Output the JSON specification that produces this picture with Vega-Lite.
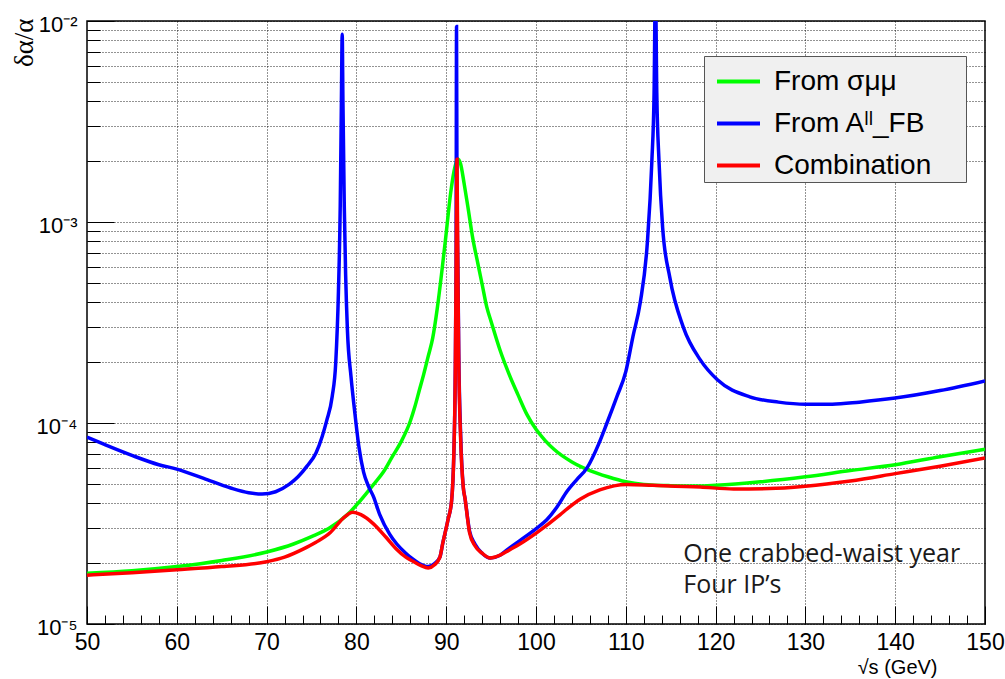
{
  "$schema": "https://vega.github.io/schema/vega-lite/v6.json",
  "width": 898,
  "height": 603,
  "autosize": {"type": "none"},
  "padding": {"left": 87, "top": 21, "right": 20, "bottom": 55},
  "background": "white",
  "config": {
    "view": {"stroke": "#000", "strokeWidth": 1.5},
    "font": "Liberation Sans"
  },
  "resolve": {"axis": {"x": "independent", "y": "independent"}},
  "layer": [
    {
      "data": {"values": [
        {"x":50,"v":1.79e-5,"s":"From σμμ"},{"x":55,"v":1.84e-5,"s":"From σμμ"},{"x":60,"v":1.93e-5,"s":"From σμμ"},{"x":65,"v":2.07e-5,"s":"From σμμ"},{"x":70,"v":2.28e-5,"s":"From σμμ"},{"x":73,"v":2.5e-5,"s":"From σμμ"},{"x":75,"v":2.72e-5,"s":"From σμμ"},{"x":77,"v":3.0e-5,"s":"From σμμ"},{"x":79,"v":3.5e-5,"s":"From σμμ"},{"x":80,"v":3.9e-5,"s":"From σμμ"},{"x":81,"v":4.4e-5,"s":"From σμμ"},{"x":82,"v":5.0e-5,"s":"From σμμ"},{"x":83,"v":5.7e-5,"s":"From σμμ"},{"x":84,"v":6.8e-5,"s":"From σμμ"},{"x":85,"v":8.1e-5,"s":"From σμμ"},{"x":86,"v":1.02e-4,"s":"From σμμ"},{"x":86.5,"v":1.2e-4,"s":"From σμμ"},{"x":87,"v":1.45e-4,"s":"From σμμ"},{"x":87.5,"v":1.75e-4,"s":"From σμμ"},{"x":88,"v":2.15e-4,"s":"From σμμ"},{"x":88.5,"v":2.65e-4,"s":"From σμμ"},{"x":89,"v":3.7e-4,"s":"From σμμ"},{"x":89.5,"v":5.6e-4,"s":"From σμμ"},{"x":90,"v":8.8e-4,"s":"From σμμ"},{"x":90.5,"v":1.4e-3,"s":"From σμμ"},{"x":91,"v":1.9e-3,"s":"From σμμ"},{"x":91.3,"v":2.06e-3,"s":"From σμμ"},{"x":91.6,"v":1.95e-3,"s":"From σμμ"},{"x":92,"v":1.55e-3,"s":"From σμμ"},{"x":92.4,"v":1.2e-3,"s":"From σμμ"},{"x":93,"v":8.1e-4,"s":"From σμμ"},{"x":93.5,"v":6.3e-4,"s":"From σμμ"},{"x":94,"v":4.9e-4,"s":"From σμμ"},{"x":94.5,"v":3.8e-4,"s":"From σμμ"},{"x":95,"v":3.2e-4,"s":"From σμμ"},{"x":96,"v":2.3e-4,"s":"From σμμ"},{"x":97,"v":1.75e-4,"s":"From σμμ"},{"x":98,"v":1.38e-4,"s":"From σμμ"},{"x":99,"v":1.1e-4,"s":"From σμμ"},{"x":100,"v":9.3e-5,"s":"From σμμ"},{"x":101,"v":8.2e-5,"s":"From σμμ"},{"x":102,"v":7.4e-5,"s":"From σμμ"},{"x":104,"v":6.4e-5,"s":"From σμμ"},{"x":106,"v":5.8e-5,"s":"From σμμ"},{"x":108,"v":5.4e-5,"s":"From σμμ"},{"x":110,"v":5.1e-5,"s":"From σμμ"},{"x":112,"v":4.95e-5,"s":"From σμμ"},{"x":115,"v":4.88e-5,"s":"From σμμ"},{"x":118,"v":4.86e-5,"s":"From σμμ"},{"x":120,"v":4.9e-5,"s":"From σμμ"},{"x":125,"v":5.1e-5,"s":"From σμμ"},{"x":130,"v":5.4e-5,"s":"From σμμ"},{"x":135,"v":5.8e-5,"s":"From σμμ"},{"x":140,"v":6.2e-5,"s":"From σμμ"},{"x":145,"v":6.8e-5,"s":"From σμμ"},{"x":150,"v":7.4e-5,"s":"From σμμ"},

        {"x":50,"v":8.5e-5,"s":"From Aˡˡ_FB"},{"x":52,"v":7.8e-5,"s":"From Aˡˡ_FB"},{"x":55,"v":6.9e-5,"s":"From Aˡˡ_FB"},{"x":58,"v":6.2e-5,"s":"From Aˡˡ_FB"},{"x":60,"v":5.9e-5,"s":"From Aˡˡ_FB"},{"x":63,"v":5.3e-5,"s":"From Aˡˡ_FB"},{"x":66,"v":4.75e-5,"s":"From Aˡˡ_FB"},{"x":68,"v":4.5e-5,"s":"From Aˡˡ_FB"},{"x":69.5,"v":4.43e-5,"s":"From Aˡˡ_FB"},{"x":71,"v":4.55e-5,"s":"From Aˡˡ_FB"},{"x":72.5,"v":4.95e-5,"s":"From Aˡˡ_FB"},{"x":73.5,"v":5.4e-5,"s":"From Aˡˡ_FB"},{"x":74.5,"v":6.1e-5,"s":"From Aˡˡ_FB"},{"x":75.5,"v":7.1e-5,"s":"From Aˡˡ_FB"},{"x":76.2,"v":8.6e-5,"s":"From Aˡˡ_FB"},{"x":76.7,"v":1.03e-4,"s":"From Aˡˡ_FB"},{"x":77.3,"v":1.35e-4,"s":"From Aˡˡ_FB"},{"x":77.7,"v":2.0e-4,"s":"From Aˡˡ_FB"},{"x":78.0,"v":4.5e-4,"s":"From Aˡˡ_FB"},{"x":78.2,"v":1.2e-3,"s":"From Aˡˡ_FB"},{"x":78.33,"v":4e-3,"s":"From Aˡˡ_FB"},{"x":78.42,"v":8.6e-3,"s":"From Aˡˡ_FB"},{"x":78.5,"v":4e-3,"s":"From Aˡˡ_FB"},{"x":78.65,"v":1.2e-3,"s":"From Aˡˡ_FB"},{"x":78.8,"v":5.5e-4,"s":"From Aˡˡ_FB"},{"x":79.0,"v":2.9e-4,"s":"From Aˡˡ_FB"},{"x":79.4,"v":1.7e-4,"s":"From Aˡˡ_FB"},{"x":79.8,"v":1.15e-4,"s":"From Aˡˡ_FB"},{"x":80.3,"v":7.5e-5,"s":"From Aˡˡ_FB"},{"x":80.8,"v":5.7e-5,"s":"From Aˡˡ_FB"},{"x":81.3,"v":4.9e-5,"s":"From Aˡˡ_FB"},{"x":81.9,"v":4.3e-5,"s":"From Aˡˡ_FB"},{"x":82.6,"v":3.5e-5,"s":"From Aˡˡ_FB"},{"x":83.7,"v":2.8e-5,"s":"From Aˡˡ_FB"},{"x":84.5,"v":2.5e-5,"s":"From Aˡˡ_FB"},{"x":85.5,"v":2.25e-5,"s":"From Aˡˡ_FB"},{"x":86.3,"v":2.1e-5,"s":"From Aˡˡ_FB"},{"x":87,"v":2.0e-5,"s":"From Aˡˡ_FB"},{"x":88,"v":1.93e-5,"s":"From Aˡˡ_FB"},{"x":88.7,"v":2.0e-5,"s":"From Aˡˡ_FB"},{"x":89.3,"v":2.15e-5,"s":"From Aˡˡ_FB"},{"x":89.6,"v":2.5e-5,"s":"From Aˡˡ_FB"},{"x":90.2,"v":3.3e-5,"s":"From Aˡˡ_FB"},{"x":90.6,"v":4.1e-5,"s":"From Aˡˡ_FB"},{"x":90.85,"v":7e-5,"s":"From Aˡˡ_FB"},{"x":91.0,"v":1.6e-4,"s":"From Aˡˡ_FB"},{"x":91.1,"v":6e-4,"s":"From Aˡˡ_FB"},{"x":91.15,"v":9.4e-3,"s":"From Aˡˡ_FB"},{"x":91.2,"v":1.5e-3,"s":"From Aˡˡ_FB"},{"x":91.3,"v":6e-4,"s":"From Aˡˡ_FB"},{"x":91.4,"v":2.2e-4,"s":"From Aˡˡ_FB"},{"x":91.6,"v":9e-5,"s":"From Aˡˡ_FB"},{"x":91.9,"v":4.8e-5,"s":"From Aˡˡ_FB"},{"x":92.1,"v":4.2e-5,"s":"From Aˡˡ_FB"},{"x":92.6,"v":2.9e-5,"s":"From Aˡˡ_FB"},{"x":93.2,"v":2.5e-5,"s":"From Aˡˡ_FB"},{"x":94,"v":2.25e-5,"s":"From Aˡˡ_FB"},{"x":94.9,"v":2.13e-5,"s":"From Aˡˡ_FB"},{"x":96,"v":2.2e-5,"s":"From Aˡˡ_FB"},{"x":97,"v":2.38e-5,"s":"From Aˡˡ_FB"},{"x":98.2,"v":2.6e-5,"s":"From Aˡˡ_FB"},{"x":100.1,"v":3.0e-5,"s":"From Aˡˡ_FB"},{"x":101.2,"v":3.3e-5,"s":"From Aˡˡ_FB"},{"x":102.3,"v":3.8e-5,"s":"From Aˡˡ_FB"},{"x":103.5,"v":4.6e-5,"s":"From Aˡˡ_FB"},{"x":104.5,"v":5.2e-5,"s":"From Aˡˡ_FB"},{"x":105.7,"v":6.0e-5,"s":"From Aˡˡ_FB"},{"x":107,"v":7.9e-5,"s":"From Aˡˡ_FB"},{"x":107.9,"v":1.0e-4,"s":"From Aˡˡ_FB"},{"x":109,"v":1.35e-4,"s":"From Aˡˡ_FB"},{"x":110,"v":1.8e-4,"s":"From Aˡˡ_FB"},{"x":110.8,"v":2.7e-4,"s":"From Aˡˡ_FB"},{"x":111.6,"v":3.95e-4,"s":"From Aˡˡ_FB"},{"x":112.4,"v":7.9e-4,"s":"From Aˡˡ_FB"},{"x":112.9,"v":2.0e-3,"s":"From Aˡˡ_FB"},{"x":113.15,"v":4.4e-3,"s":"From Aˡˡ_FB"},{"x":113.3,"v":1.5e-2,"s":"From Aˡˡ_FB"},{"x":113.45,"v":4.4e-3,"s":"From Aˡˡ_FB"},{"x":113.7,"v":2.0e-3,"s":"From Aˡˡ_FB"},{"x":114.1,"v":9.4e-4,"s":"From Aˡˡ_FB"},{"x":114.9,"v":5.3e-4,"s":"From Aˡˡ_FB"},{"x":116.4,"v":3.0e-4,"s":"From Aˡˡ_FB"},{"x":118.3,"v":2.06e-4,"s":"From Aˡˡ_FB"},{"x":120.2,"v":1.64e-4,"s":"From Aˡˡ_FB"},{"x":123.8,"v":1.35e-4,"s":"From Aˡˡ_FB"},{"x":127,"v":1.27e-4,"s":"From Aˡˡ_FB"},{"x":130,"v":1.24e-4,"s":"From Aˡˡ_FB"},{"x":133,"v":1.24e-4,"s":"From Aˡˡ_FB"},{"x":136,"v":1.27e-4,"s":"From Aˡˡ_FB"},{"x":140,"v":1.33e-4,"s":"From Aˡˡ_FB"},{"x":145,"v":1.45e-4,"s":"From Aˡˡ_FB"},{"x":150,"v":1.62e-4,"s":"From Aˡˡ_FB"},

        {"x":50,"v":1.75e-5,"s":"Combination"},{"x":55,"v":1.8e-5,"s":"Combination"},{"x":60,"v":1.86e-5,"s":"Combination"},{"x":65,"v":1.93e-5,"s":"Combination"},{"x":70,"v":2.04e-5,"s":"Combination"},{"x":72,"v":2.15e-5,"s":"Combination"},{"x":74,"v":2.35e-5,"s":"Combination"},{"x":75.5,"v":2.55e-5,"s":"Combination"},{"x":77.1,"v":2.85e-5,"s":"Combination"},{"x":78.5,"v":3.35e-5,"s":"Combination"},{"x":79.6,"v":3.6e-5,"s":"Combination"},{"x":80.5,"v":3.5e-5,"s":"Combination"},{"x":81.9,"v":3.15e-5,"s":"Combination"},{"x":83.3,"v":2.7e-5,"s":"Combination"},{"x":84.5,"v":2.35e-5,"s":"Combination"},{"x":85.5,"v":2.15e-5,"s":"Combination"},{"x":86.3,"v":2.05e-5,"s":"Combination"},{"x":87.2,"v":1.95e-5,"s":"Combination"},{"x":88,"v":1.9e-5,"s":"Combination"},{"x":88.7,"v":1.97e-5,"s":"Combination"},{"x":89.3,"v":2.15e-5,"s":"Combination"},{"x":89.6,"v":2.5e-5,"s":"Combination"},{"x":90.2,"v":3.3e-5,"s":"Combination"},{"x":90.6,"v":4.1e-5,"s":"Combination"},{"x":90.85,"v":7e-5,"s":"Combination"},{"x":91.0,"v":1.6e-4,"s":"Combination"},{"x":91.1,"v":5.5e-4,"s":"Combination"},{"x":91.2,"v":2.05e-3,"s":"Combination"},{"x":91.3,"v":5.5e-4,"s":"Combination"},{"x":91.4,"v":2.0e-4,"s":"Combination"},{"x":91.6,"v":8.5e-5,"s":"Combination"},{"x":91.9,"v":4.8e-5,"s":"Combination"},{"x":92.1,"v":4.2e-5,"s":"Combination"},{"x":92.6,"v":2.85e-5,"s":"Combination"},{"x":93.2,"v":2.45e-5,"s":"Combination"},{"x":94,"v":2.25e-5,"s":"Combination"},{"x":94.9,"v":2.13e-5,"s":"Combination"},{"x":96,"v":2.2e-5,"s":"Combination"},{"x":97,"v":2.33e-5,"s":"Combination"},{"x":98.2,"v":2.5e-5,"s":"Combination"},{"x":100.1,"v":2.85e-5,"s":"Combination"},{"x":102.7,"v":3.5e-5,"s":"Combination"},{"x":103.5,"v":3.75e-5,"s":"Combination"},{"x":105,"v":4.2e-5,"s":"Combination"},{"x":107.1,"v":4.65e-5,"s":"Combination"},{"x":110.1,"v":4.95e-5,"s":"Combination"},{"x":113,"v":4.9e-5,"s":"Combination"},{"x":118.3,"v":4.8e-5,"s":"Combination"},{"x":122,"v":4.7e-5,"s":"Combination"},{"x":126,"v":4.72e-5,"s":"Combination"},{"x":130,"v":4.85e-5,"s":"Combination"},{"x":135,"v":5.15e-5,"s":"Combination"},{"x":140,"v":5.6e-5,"s":"Combination"},{"x":145,"v":6.1e-5,"s":"Combination"},{"x":150,"v":6.7e-5,"s":"Combination"}
      ]},
      "encoding": {
        "x": {
          "field": "x", "type": "quantitative",
          "scale": {"domain": [50, 150], "nice": false, "zero": false},
          "axis": {
            "values": [50,52,54,56,58,60,62,64,66,68,70,72,74,76,78,80,82,84,86,88,90,92,94,96,98,100,102,104,106,108,110,112,114,116,118,120,122,124,126,128,130,132,134,136,138,140,142,144,146,148,150],
            "domain": false,
            "grid": true,
            "gridColor": "#000",
            "gridDash": [1, 2],
            "gridWidth": 1,
            "gridOpacity": {"condition": {"test": "datum.value % 10 == 0 && datum.value > 50 && datum.value < 150", "value": 0.85}, "value": 0},
            "tickColor": "#000",
            "tickWidth": 1,
            "tickSize": {"condition": {"test": "datum.value % 10 == 0", "value": -18}, "value": -9},
            "labelExpr": "datum.value % 10 == 0 ? datum.label : ''",
            "labelFont": "Liberation Sans",
            "labelFontSize": 23,
            "labelColor": "#000",
            "labelPadding": 25,
            "labelFlush": false,
            "labelOverlap": false,
            "title": "√s (GeV)",
            "titleFont": "Liberation Sans",
            "titleFontSize": 20,
            "titleFontWeight": "normal",
            "titleColor": "#000",
            "titleAlign": "right",
            "titleBaseline": "alphabetic",
            "titleX": 850,
            "titleY": 49
          }
        },
        "y": {
          "field": "v", "type": "quantitative",
          "scale": {"type": "log", "domain": [1e-5, 1e-2], "nice": false},
          "axis": {
            "values": [1e-5,2e-5,3e-5,4e-5,5e-5,6e-5,7e-5,8e-5,9e-5,1e-4,2e-4,3e-4,4e-4,5e-4,6e-4,7e-4,8e-4,9e-4,1e-3,2e-3,3e-3,4e-3,5e-3,6e-3,7e-3,8e-3,9e-3,1e-2],
            "domain": false,
            "grid": true,
            "gridColor": "#000",
            "gridDash": [1, 2],
            "gridWidth": 1,
            "gridOpacity": 0.85,
            "tickColor": "#000",
            "tickWidth": 1,
            "tickSize": {"condition": {"test": "abs(log(datum.value)/LN10 - round(log(datum.value)/LN10)) < 0.01", "value": -27}, "value": -13},
            "labelExpr": "abs(log(datum.value)/LN10 - round(log(datum.value)/LN10)) < 0.01 ? (round(log(datum.value)/LN10) == -5 ? '10⁻⁵' : round(log(datum.value)/LN10) == -4 ? '10⁻⁴' : round(log(datum.value)/LN10) == -3 ? '10⁻³' : '10⁻²') : ''",
            "labelFont": "Liberation Sans",
            "labelFontSize": 22,
            "labelColor": "#000",
            "labelPadding": 37,
            "labelOffset": 3,
            "labelFlush": false,
            "labelOverlap": false,
            "title": "δα/α",
            "titleFont": "Liberation Serif",
            "titleFontSize": 27,
            "titleFontWeight": "normal",
            "titleColor": "#000",
            "titleAngle": 270,
            "titleAlign": "right",
            "titleBaseline": "middle",
            "titleX": -63,
            "titleY": -3
          }
        },
        "color": {
          "field": "s", "type": "nominal",
          "scale": {"domain": ["From σμμ", "From Aˡˡ_FB", "Combination"], "range": ["#00ff00", "#0000ff", "#ff0000"]},
          "legend": {
            "orient": "none",
            "legendX": 617,
            "legendY": 35,
            "title": null,
            "fillColor": "#f0f0f0",
            "strokeColor": "#555",
            "padding": 2,
            "symbolType": "stroke",
            "symbolSize": 1849,
            "symbolStrokeWidth": 4,
            "symbolOffset": 9,
            "labelFont": "Liberation Sans",
            "labelFontSize": 28,
            "labelColor": "#000",
            "labelOffset": 12,
            "labelLimit": 400,
            "rowPadding": 4,
            "labelExpr": "datum.label + '\u2009\u2009\u2800'"
          }
        }
      },
      "layer": [
        {"transform": [{"filter": "datum.s == 'From σμμ'"}], "mark": {"type": "line", "strokeWidth": 3.5, "clip": true, "interpolate": "monotone"}},
        {"transform": [{"filter": "datum.s == 'From Aˡˡ_FB'"}], "mark": {"type": "line", "strokeWidth": 3.5, "clip": true, "interpolate": "monotone"}},
        {"transform": [{"filter": "datum.s == 'Combination'"}], "mark": {"type": "line", "strokeWidth": 3.5, "clip": true, "interpolate": "monotone"}}
      ]
    },
    {
      "data": {"values": [{}]},
      "mark": {"type": "text", "font": "Open Sans", "fontSize": 25, "align": "left", "baseline": "alphabetic", "lineHeight": 31, "color": "#1a1a1a"},
      "encoding": {
        "x": {"datum": 116.4, "type": "quantitative", "axis": null},
        "y": {"datum": 2.03e-5, "type": "quantitative", "scale": {"type": "log"}, "axis": null},
        "text": {"value": ["One crabbed-waist year", "Four IP’s"]}
      }
    }
  ]
}
